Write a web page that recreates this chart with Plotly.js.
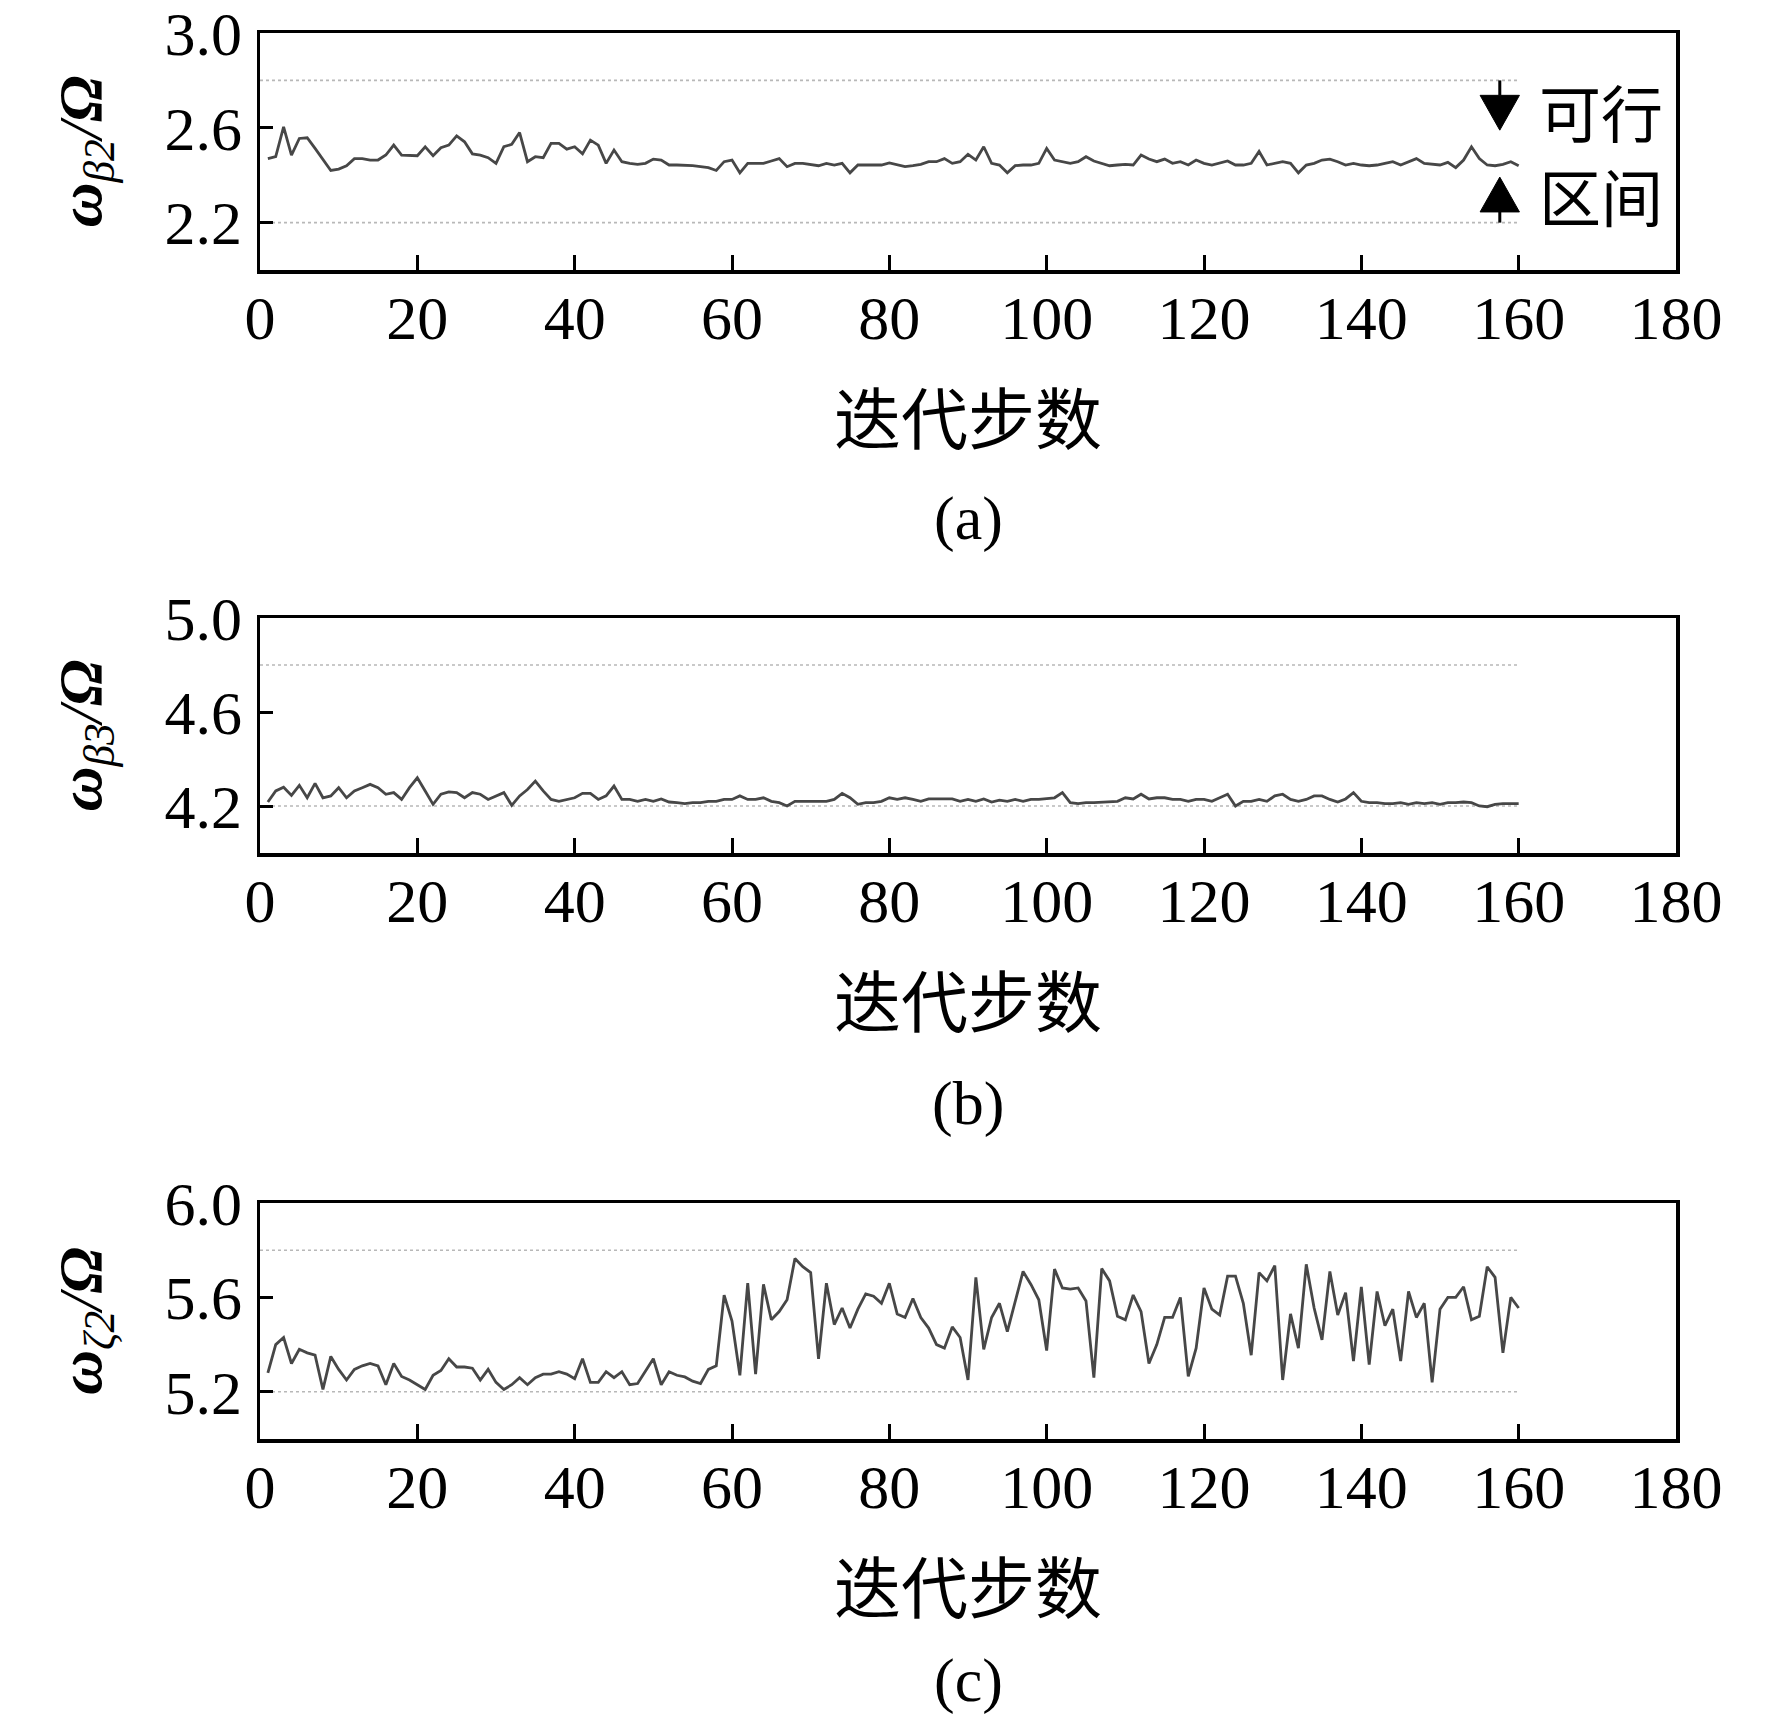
<!DOCTYPE html>
<html>
<head>
<meta charset="utf-8">
<script src="https://cdn.plot.ly/plotly-3.0.1.min.js"></script>
<style>html,body{margin:0;padding:0;background:#fff;}#chart{width:1772px;height:1724px;}</style>
</head>
<body>
<div id="chart"></div>
<script>
// iteration steps
var steps = [1,2,3,4,5,6,7,8,9,10,11,12,13,14,15,16,17,18,19,20,
21,22,23,24,25,26,27,28,29,30,31,32,33,34,35,36,37,38,39,40,
41,42,43,44,45,46,47,48,49,50,51,52,53,54,55,56,57,58,59,60,
61,62,63,64,65,66,67,68,69,70,71,72,73,74,75,76,77,78,79,80,
81,82,83,84,85,86,87,88,89,90,91,92,93,94,95,96,97,98,99,100,
101,102,103,104,105,106,107,108,109,110,111,112,113,114,115,116,117,118,119,120,
121,122,123,124,125,126,127,128,129,130,131,132,133,134,135,136,137,138,139,140,
141,142,143,144,145,146,147,148,149,150,151,152,153,154,155,156,157,158,159,160];

// (a) omega_beta2 / Omega
var wB2 = [2.470,2.478,2.604,2.485,2.555,2.558,2.513,2.464,2.420,2.426,
2.440,2.470,2.470,2.464,2.464,2.485,2.527,2.485,2.485,2.482,
2.520,2.482,2.516,2.527,2.566,2.541,2.490,2.485,2.474,2.450,
2.520,2.530,2.580,2.457,2.478,2.474,2.534,2.534,2.510,2.520,
2.490,2.548,2.527,2.450,2.506,2.457,2.450,2.446,2.450,2.468,
2.464,2.443,2.443,2.443,2.440,2.436,2.432,2.420,2.457,2.464,
2.410,2.450,2.450,2.450,2.460,2.470,2.436,2.450,2.450,2.446,
2.440,2.450,2.443,2.450,2.410,2.443,2.443,2.440,2.443,2.452,
2.443,2.436,2.440,2.446,2.457,2.457,2.470,2.450,2.457,2.488,
2.464,2.520,2.450,2.443,2.410,2.440,2.443,2.443,2.450,2.513,
2.464,2.457,2.450,2.457,2.478,2.460,2.450,2.440,2.443,2.446,
2.443,2.485,2.468,2.457,2.468,2.450,2.457,2.443,2.464,2.450,
2.443,2.450,2.460,2.443,2.443,2.450,2.500,2.443,2.450,2.457,
2.450,2.410,2.443,2.450,2.464,2.468,2.457,2.443,2.450,2.443,
2.440,2.443,2.450,2.457,2.443,2.457,2.470,2.450,2.446,2.443,
2.454,2.432,2.464,2.520,2.470,2.443,2.440,2.446,2.457,2.440];

// (b) omega_beta3 / Omega
var wB3 = [4.217,4.264,4.280,4.245,4.288,4.235,4.296,4.235,4.243,4.278,
4.235,4.264,4.278,4.292,4.278,4.250,4.257,4.228,4.278,4.320,
4.264,4.207,4.250,4.260,4.257,4.235,4.257,4.250,4.228,4.243,
4.257,4.203,4.243,4.270,4.306,4.264,4.228,4.220,4.228,4.235,
4.254,4.254,4.228,4.243,4.285,4.228,4.228,4.220,4.228,4.220,
4.230,4.217,4.214,4.210,4.214,4.214,4.220,4.220,4.228,4.228,
4.243,4.228,4.228,4.235,4.220,4.214,4.200,4.220,4.220,4.220,
4.220,4.220,4.228,4.254,4.235,4.207,4.214,4.214,4.220,4.235,
4.228,4.235,4.228,4.220,4.230,4.230,4.228,4.230,4.220,4.228,
4.220,4.230,4.217,4.225,4.220,4.228,4.220,4.228,4.228,4.230,
4.235,4.257,4.214,4.210,4.214,4.214,4.217,4.220,4.220,4.235,
4.230,4.250,4.230,4.235,4.235,4.228,4.228,4.220,4.228,4.228,
4.220,4.235,4.250,4.200,4.220,4.220,4.228,4.220,4.243,4.250,
4.228,4.220,4.228,4.243,4.243,4.228,4.217,4.230,4.257,4.220,
4.214,4.214,4.210,4.210,4.214,4.207,4.214,4.210,4.214,4.207,
4.214,4.214,4.217,4.214,4.200,4.197,4.207,4.210,4.210,4.210];

// (c) omega_zeta2 / Omega
var wZ2 = [5.280,5.400,5.430,5.320,5.380,5.365,5.355,5.210,5.350,5.295,
5.250,5.295,5.310,5.320,5.310,5.230,5.320,5.265,5.250,5.230,
5.210,5.270,5.290,5.340,5.305,5.305,5.300,5.250,5.295,5.240,
5.210,5.230,5.260,5.230,5.260,5.275,5.275,5.285,5.275,5.255,
5.340,5.240,5.240,5.285,5.260,5.285,5.230,5.235,5.290,5.340,
5.230,5.285,5.270,5.263,5.245,5.235,5.295,5.310,5.610,5.500,
5.270,5.660,5.275,5.655,5.505,5.540,5.590,5.765,5.730,5.705,
5.340,5.660,5.485,5.555,5.470,5.550,5.615,5.605,5.575,5.660,
5.530,5.515,5.595,5.515,5.470,5.400,5.385,5.475,5.430,5.250,
5.685,5.380,5.515,5.575,5.455,5.585,5.710,5.655,5.590,5.375,
5.720,5.640,5.635,5.640,5.585,5.260,5.722,5.670,5.520,5.505,
5.610,5.540,5.320,5.400,5.515,5.515,5.600,5.265,5.385,5.640,
5.550,5.525,5.690,5.690,5.575,5.355,5.705,5.670,5.735,5.250,
5.530,5.385,5.740,5.555,5.420,5.710,5.525,5.620,5.330,5.645,
5.315,5.625,5.480,5.550,5.330,5.625,5.515,5.575,5.240,5.550,
5.600,5.600,5.645,5.505,5.520,5.730,5.685,5.365,5.600,5.555];

// feasible interval bounds (dotted lines) and their extent
var boundX = [0, 160];
var boundsA = [2.2, 2.8];
var boundsB = [4.2, 4.8];
var boundsC = [5.2, 5.8];

var xTicks = [0,20,40,60,80,100,120,140,160,180];
var yTicksA = [2.2, 2.6, 3.0];
var yTicksB = [4.2, 4.6, 5.0];
var yTicksC = [5.2, 5.6, 6.0];
var rangeA = [2.0, 3.0], rangeB = [4.0, 5.0], rangeC = [5.0, 6.0];

var xTitle = '迭代步数';
var yTitleA = '<i><b>ω</b></i><sub><i>β2</i></sub><i>/<b>Ω</b></i>';
var yTitleB = '<i><b>ω</b></i><sub><i>β3</i></sub><i>/<b>Ω</b></i>';
var yTitleC = '<i><b>ω</b></i><sub><i>ζ2</i></sub><i>/<b>Ω</b></i>';
var panelLabels = ['(a)', '(b)', '(c)'];
var feasibleText = ['可行', '区间'];

var SERIF = 'Liberation Serif, Times New Roman, Noto Sans CJK SC, serif';
var CJK = 'Noto Sans CJK SC, sans-serif';
var lineColor = '#474747';
var boundColor = '#b8b8b8';

function seriesTrace(y, xa, ya) {
  return {x: steps, y: y, xaxis: xa, yaxis: ya, type: 'scatter', mode: 'lines',
          line: {color: lineColor, width: 2.8}, hoverinfo: 'skip'};
}
function boundTrace(v, xa, ya) {
  return {x: boundX, y: [v, v], xaxis: xa, yaxis: ya, type: 'scatter', mode: 'lines',
          line: {color: boundColor, width: 1.6, dash: 'dot'}, hoverinfo: 'skip'};
}

var traces = [
  boundTrace(boundsA[0], 'x', 'y'), boundTrace(boundsA[1], 'x', 'y'),
  boundTrace(boundsB[0], 'x2', 'y2'), boundTrace(boundsB[1], 'x2', 'y2'),
  boundTrace(boundsC[0], 'x3', 'y3'), boundTrace(boundsC[1], 'x3', 'y3'),
  seriesTrace(wB2, 'x', 'y'),
  seriesTrace(wB3, 'x2', 'y2'),
  seriesTrace(wZ2, 'x3', 'y3')
];

var W = 1772, H = 1724;
var xDom = [260 / W, 1676 / W];
function yDom(top, bottom) { return [1 - bottom / H, 1 - top / H]; }

function xAxis(anchor) {
  return {
    domain: xDom, anchor: anchor, range: [0, 180], tickvals: xTicks,
    ticks: 'inside', ticklen: 15, tickwidth: 3, tickcolor: '#000',
    showline: true, linewidth: 3.5, linecolor: '#000', mirror: true,
    showgrid: false, zeroline: false, fixedrange: true,
    tickfont: {family: SERIF, size: 62, color: '#000'},
    ticklabelstandoff: -9, ticklabeloverflow: 'allow',
    title: {text: xTitle, font: {family: CJK, size: 67, color: '#000'}, standoff: 47}
  };
}
function yAxis(anchor, dom, range, ticks, title) {
  return {
    domain: dom, anchor: anchor, range: range, tickvals: ticks, tickformat: '.1f',
    ticks: 'inside', ticklen: 13, tickwidth: 3, tickcolor: '#000',
    showline: true, linewidth: 3.5, linecolor: '#000', mirror: true,
    showgrid: false, zeroline: false, fixedrange: true,
    tickfont: {family: SERIF, size: 62, color: '#000'},
    ticklabelstandoff: 2, ticklabeloverflow: 'allow',
    title: {text: title, font: {family: SERIF, size: 62, color: '#000'}, standoff: 44}
  };
}

// feasible-interval arrows (panel a), drawn as shapes
var arrowX = 157.6, arrowHalfW = 2.5, headH = 0.147;
var downTip = 2.59, upTip = 2.392;
function tri(tipY, baseY) {
  return 'M' + (arrowX - arrowHalfW) + ',' + baseY + ' L' + (arrowX + arrowHalfW) + ',' + baseY +
         ' L' + arrowX + ',' + tipY + ' Z';
}
var shapes = [
  {type: 'line', xref: 'x', yref: 'y', x0: arrowX, x1: arrowX, y0: boundsA[1], y1: downTip + headH,
   line: {color: '#000', width: 3}},
  {type: 'path', xref: 'x', yref: 'y', path: tri(downTip, downTip + headH),
   fillcolor: '#000', line: {color: '#000', width: 1}},
  {type: 'line', xref: 'x', yref: 'y', x0: arrowX, x1: arrowX, y0: boundsA[0], y1: upTip - headH,
   line: {color: '#000', width: 3}},
  {type: 'path', xref: 'x', yref: 'y', path: tri(upTip, upTip - headH),
   fillcolor: '#000', line: {color: '#000', width: 1}}
];

var labelX = 0.5 * (xDom[0] + xDom[1]);
var annotations = [
  {xref: 'paper', yref: 'paper', x: labelX, y: 1 - 518 / H, text: panelLabels[0],
   showarrow: false, font: {family: SERIF, size: 62, color: '#000'}, xanchor: 'center', yanchor: 'middle'},
  {xref: 'paper', yref: 'paper', x: labelX, y: 1 - 1103 / H, text: panelLabels[1],
   showarrow: false, font: {family: SERIF, size: 62, color: '#000'}, xanchor: 'center', yanchor: 'middle'},
  {xref: 'paper', yref: 'paper', x: labelX, y: 1 - 1680 / H, text: panelLabels[2],
   showarrow: false, font: {family: SERIF, size: 62, color: '#000'}, xanchor: 'center', yanchor: 'middle'},
  {xref: 'x', yref: 'y', x: 170.5, y: 2.672, text: feasibleText[0], showarrow: false,
   font: {family: CJK, size: 62, color: '#000'}, xanchor: 'center', yanchor: 'middle', borderpad: 0},
  {xref: 'x', yref: 'y', x: 170.5, y: 2.315, text: feasibleText[1], showarrow: false,
   font: {family: CJK, size: 62, color: '#000'}, xanchor: 'center', yanchor: 'middle', borderpad: 0}
];

var layout = {
  width: W, height: H,
  margin: {l: 0, r: 0, t: 0, b: 0},
  paper_bgcolor: '#fff', plot_bgcolor: '#fff',
  showlegend: false,
  xaxis: xAxis('y'), xaxis2: xAxis('y2'), xaxis3: xAxis('y3'),
  yaxis: yAxis('x', yDom(33, 270), rangeA, yTicksA, yTitleA),
  yaxis2: yAxis('x2', yDom(618, 853), rangeB, yTicksB, yTitleB),
  yaxis3: yAxis('x3', yDom(1203, 1439), rangeC, yTicksC, yTitleC),
  shapes: shapes,
  annotations: annotations
};

Plotly.newPlot('chart', traces, layout, {staticPlot: true, displayModeBar: false});
</script>
</body>
</html>
